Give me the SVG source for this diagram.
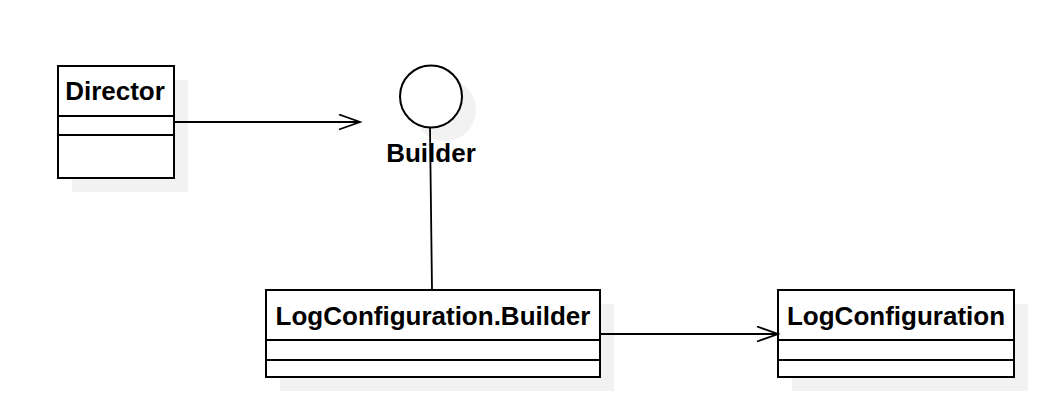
<svg xmlns="http://www.w3.org/2000/svg" width="1056" height="412" viewBox="0 0 1056 412">
<style>
.box{fill:#fff;stroke:#000;stroke-width:2}
.sh{fill:#f2f2f2;stroke:none}
.div{stroke:#000;stroke-width:2}
.t{font-family:"Liberation Sans",Arial,sans-serif;font-weight:bold;font-size:26px;fill:#000;text-anchor:middle}
.c{stroke:#000;stroke-width:1.8;fill:none}
</style>
<defs>
<marker id="open" markerUnits="userSpaceOnUse" markerWidth="26" markerHeight="20" refX="22" refY="8" orient="auto">
<path d="M1,0.5 L22,8 L1,15.5" fill="none" stroke="#000" stroke-width="1.8"/>
</marker>
</defs>
<rect width="1056" height="412" fill="#fff"/>
<g id="director">
<rect class="sh" x="72" y="80" width="116" height="112"/>
<rect class="box" x="58" y="66" width="116" height="112"/>
<line class="div" x1="58" y1="116" x2="174" y2="116"/>
<line class="div" x1="58" y1="135" x2="174" y2="135"/>
<text class="t" x="115" y="100">Director</text>
</g>
<g id="builder">
<circle class="sh" cx="445" cy="110" r="31"/>
<circle class="box" cx="431" cy="96.5" r="31"/>
<text class="t" x="431" y="162">Builder</text>
</g>
<g id="logconfigbuilder">
<rect class="sh" x="280" y="304" width="334" height="87"/>
<rect class="box" x="266" y="290" width="334" height="87"/>
<line class="div" x1="266" y1="340" x2="600" y2="340"/>
<line class="div" x1="266" y1="360" x2="600" y2="360"/>
<text class="t" x="433" y="325">LogConfiguration.Builder</text>
</g>
<g id="logconfig">
<rect class="sh" x="792" y="304" width="236" height="87"/>
<rect class="box" x="778" y="290" width="236" height="87"/>
<line class="div" x1="778" y1="340" x2="1014" y2="340"/>
<line class="div" x1="778" y1="360" x2="1014" y2="360"/>
<text class="t" x="896" y="325">LogConfiguration</text>
</g>
<g id="connectors">
<line class="c" x1="175" y1="122" x2="360" y2="122" marker-end="url(#open)"/>
<line class="c" x1="430" y1="128" x2="432" y2="289"/>
<line class="c" x1="601" y1="334" x2="778" y2="334" marker-end="url(#open)"/>
</g>
</svg>
